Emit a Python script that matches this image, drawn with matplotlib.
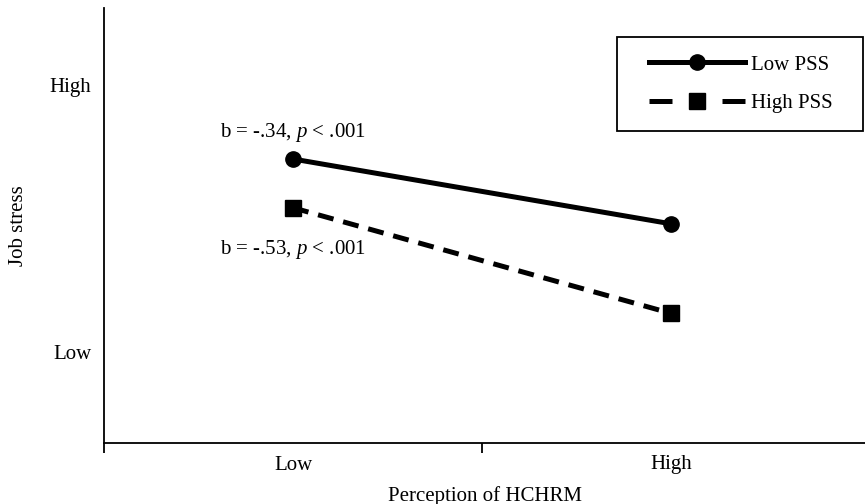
import matplotlib.pyplot as plt
from matplotlib.lines import Line2D
from matplotlib.patches import Rectangle

plt.rcParams['font.family'] = ['Liberation Serif', 'DejaVu Serif']
plt.rcParams['mathtext.fontset'] = 'custom'
plt.rcParams['mathtext.rm'] = 'Liberation Serif'
plt.rcParams['mathtext.it'] = 'Liberation Serif:italic'

# Data
hchrm_levels = ['Low', 'High']
x_pos = [0.5, 1.5]
low_pss = [3.89, 2.92]
high_pss = [3.16, 1.58]
y_tick_values = [1, 5]
y_tick_labels = ['Low', 'High']
series_names = ['Low PSS', 'High PSS']
slope_low = r'b = -.34, $\mathit{p}$ < .001'
slope_high = r'b = -.53, $\mathit{p}$ < .001'

W, H = 865, 504
fig = plt.figure(figsize=(W / 100, H / 100), dpi=100)
ax = fig.add_axes([104 / W, 1 - 443 / H, 1 - 104 / W, 435 / H])

lw = 3.6
ax.plot(x_pos, low_pss, color='black', linewidth=lw, marker='o', markersize=11)
ax.plot(x_pos, high_pss, color='black', linewidth=lw, linestyle=(0, (3.2, 2.0)),
        marker='s', markersize=11.5)

ax.text(x_pos[0], 4.28, slope_low, ha='center', va='center', fontsize=15)
ax.text(x_pos[0], 2.53, slope_high, ha='center', va='center', fontsize=15)

ax.set_xlim(0, 2.013)
ax.set_ylim(-0.36, 6.15)

# major ticks mark category boundaries, minor ticks carry the labels
ax.set_xticks([0, 1])
ax.set_xticklabels([])
ax.set_xticks(x_pos, minor=True)
ax.set_xticklabels(hchrm_levels, minor=True, fontsize=15)
ax.tick_params(axis='x', which='major', direction='out', length=7, width=1.3)
ax.tick_params(axis='x', which='minor', length=0, pad=9)

ax.set_yticks(y_tick_values)
ax.set_yticklabels(y_tick_labels, fontsize=15)
ax.tick_params(axis='y', length=0, pad=9)

ax.spines['top'].set_visible(False)
ax.spines['right'].set_visible(False)
ax.spines['left'].set_linewidth(1.3)
ax.spines['bottom'].set_linewidth(1.3)

ax.set_xlabel('Perception of HCHRM', fontsize=15, labelpad=8)
ax.set_ylabel('Job stress', fontsize=15, labelpad=16)

# legend handles: long lines with the marker in the middle
handles = [
    Line2D([], [], color='black', linewidth=lw, marker='o', markersize=11),
    Line2D([], [], color='black', linewidth=lw, linestyle=(0, (4.6, 10)),
           marker='s', markersize=11.5),
]
fig.legend(handles, series_names, loc='center left',
           bbox_to_anchor=(649 / W, 1 - 84 / H), fontsize=15,
           handlelength=4.6, handletextpad=0.3, labelspacing=0.9,
           borderpad=0, borderaxespad=0, frameon=False)
fig.add_artist(Rectangle((617 / W, 1 - 131 / H), 246 / W, 94 / H,
                         transform=fig.transFigure, fill=False,
                         edgecolor='black', linewidth=1.3))

fig.savefig('out.png', dpi=100)
